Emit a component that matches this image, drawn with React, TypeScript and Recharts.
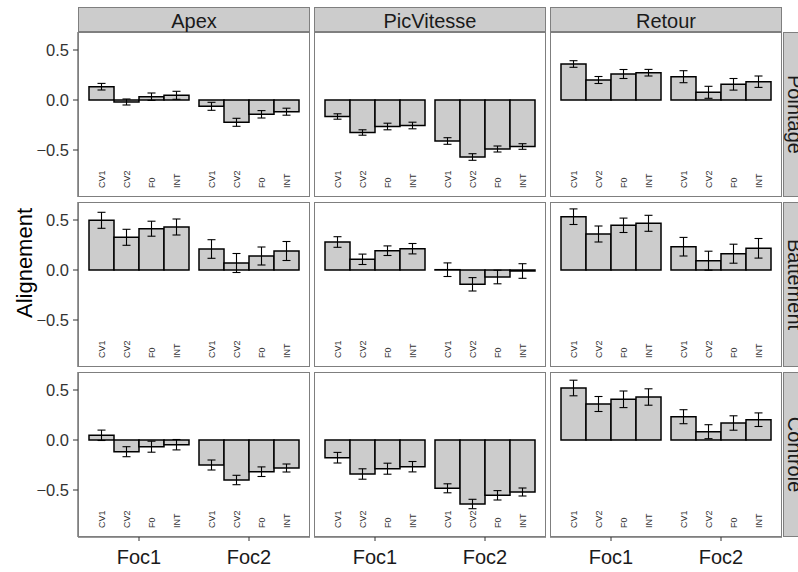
import React from 'react';
import { BarChart, Bar, XAxis, YAxis, ErrorBar, LabelList } from 'recharts';

const facets = ['Apex', 'PicVitesse', 'Retour'];
const tasks = ['Pointage', 'Battement', 'Controle'];
const focs = ['Foc1', 'Foc2'];
const measures = ['CV1', 'CV2', 'F0', 'INT'];
const yTicks = [-0.5, 0, 0.5];

// moyennes : Foc1 (CV1, CV2, F0, INT) puis Foc2 (CV1, CV2, F0, INT)
const apexPointage = [0.133, -0.02, 0.033, 0.047, -0.063, -0.223, -0.143, -0.117];
const picPointage = [-0.165, -0.325, -0.265, -0.255, -0.41, -0.57, -0.49, -0.465];
const retourPointage = [0.36, 0.2, 0.26, 0.273, 0.233, 0.077, 0.157, 0.183];
const apexBattement = [0.497, 0.327, 0.413, 0.43, 0.21, 0.07, 0.14, 0.19];
const picBattement = [0.28, 0.107, 0.193, 0.213, 0.003, -0.143, -0.07, -0.01];
const retourBattement = [0.533, 0.36, 0.447, 0.467, 0.233, 0.093, 0.163, 0.217];
const apexControle = [0.047, -0.117, -0.067, -0.047, -0.25, -0.4, -0.317, -0.28];
const picControle = [-0.177, -0.34, -0.287, -0.267, -0.483, -0.64, -0.553, -0.52];
const retourControle = [0.52, 0.36, 0.407, 0.43, 0.233, 0.083, 0.17, 0.203];

// erreurs standard, même ordre
const apexPointageSe = [0.033, 0.03, 0.037, 0.04, 0.04, 0.04, 0.037, 0.035];
const picPointageSe = [0.027, 0.027, 0.033, 0.033, 0.033, 0.033, 0.03, 0.028];
const retourPointageSe = [0.033, 0.035, 0.045, 0.033, 0.06, 0.06, 0.058, 0.057];
const apexBattementSe = [0.08, 0.08, 0.075, 0.08, 0.093, 0.095, 0.09, 0.095];
const picBattementSe = [0.053, 0.052, 0.048, 0.052, 0.068, 0.067, 0.068, 0.073];
const retourBattementSe = [0.078, 0.08, 0.072, 0.08, 0.093, 0.095, 0.095, 0.098];
const apexControleSe = [0.052, 0.05, 0.055, 0.052, 0.05, 0.047, 0.048, 0.04];
const picControleSe = [0.053, 0.052, 0.055, 0.052, 0.045, 0.047, 0.047, 0.04];
const retourControleSe = [0.078, 0.075, 0.083, 0.082, 0.07, 0.07, 0.072, 0.068];

const means = [
  [apexPointage, picPointage, retourPointage],
  [apexBattement, picBattement, retourBattement],
  [apexControle, picControle, retourControle],
];
const ses = [
  [apexPointageSe, picPointageSe, retourPointageSe],
  [apexBattementSe, picBattementSe, retourBattementSe],
  [apexControleSe, picControleSe, retourControleSe],
];

const FONT = '"Liberation Sans", Arial, Helvetica, sans-serif';
const PANEL_W = 232;
const PANEL_H = 165;
const Y_AXIS_W = 78;
const X_AXIS_H = 35;
const colX = [78, 314, 550];
const rowY = [32, 202, 372];
const STRIP_TOP = 7;
const STRIP_H = 25;
const RIGHT_STRIP_X = 783;
const BORDER = '#7f7f7f';
const GREY = '#cccccc';

const fmtTick = (v: number) => (v < 0 ? '\u2212' + Math.abs(v).toFixed(1) : v.toFixed(1));

function Panel({ row, col }: { row: number; col: number }) {
  const m = means[row][col];
  const s = ses[row][col];
  const data = focs.map((f, fi) => {
    const d: any = { foc: f };
    measures.forEach((k, ki) => {
      d[k] = m[fi * 4 + ki];
      d[k + '_se'] = s[fi * 4 + ki];
    });
    return d;
  });
  const showY = col === 0;
  const showX = row === 2;
  const w = PANEL_W + (showY ? Y_AXIS_W : 0);
  const h = PANEL_H + (showX ? X_AXIS_H : 0);

  return (
    <div style={{ position: 'absolute', left: colX[col] - (showY ? Y_AXIS_W : 0), top: rowY[row] }}>
      <BarChart
        width={w}
        height={h}
        data={data}
        margin={{ top: 0, right: 0, bottom: 0, left: 0 }}
        barCategoryGap={5}
        barGap={0}
      >
        <XAxis
          dataKey="foc"
          hide={!showX}
          height={X_AXIS_H}
          padding={{ left: 6, right: 6 }}
          axisLine={{ stroke: '#333333' }}
          tickSize={4}
          tickMargin={9}
          tickLine={{ stroke: '#333333' }}
          tick={{ fontSize: 20, fill: '#1a1a1a', fontFamily: FONT }}
        />
        <YAxis
          hide={!showY}
          width={Y_AXIS_W}
          domain={[-0.97, 0.68]}
          allowDataOverflow
          ticks={yTicks}
          tickFormatter={fmtTick}
          axisLine={{ stroke: '#333333' }}
          tickSize={5}
          tickMargin={4}
          tickLine={{ stroke: '#333333' }}
          tick={{ fontSize: 16.5, fill: '#333333', fontFamily: FONT }}
        />
        {measures.map((k) => (
          <Bar key={k} dataKey={k} fill={GREY} stroke="#000000" strokeWidth={1.5} isAnimationActive={false}>
            <ErrorBar dataKey={k + '_se'} width={4} stroke="#000000" strokeWidth={1.1} />
            <LabelList
              dataKey={k}
              content={(p: any) => {
                const vb = p.viewBox || p;
                const cx = Number(vb.x) + Number(vb.width) / 2;
                const cy = PANEL_H - 9;
                return (
                  <text
                    x={cx}
                    y={cy}
                    transform={`rotate(-90, ${cx}, ${cy})`}
                    textAnchor="start"
                    dominantBaseline="central"
                    fontSize={9}
                    fontFamily={FONT}
                    fill="#333333"
                  >
                    {k}
                  </text>
                );
              }}
            />
          </Bar>
        ))}
      </BarChart>
      <div
        style={{
          position: 'absolute',
          left: showY ? Y_AXIS_W : 0,
          top: 0,
          width: PANEL_W,
          height: PANEL_H,
          border: `1px solid ${BORDER}`,
          boxSizing: 'border-box',
          pointerEvents: 'none',
        }}
      />
    </div>
  );
}

export default function App() {
  return (
    <div
      style={{
        position: 'absolute',
        left: 0,
        top: 0,
        width: 798,
        height: 572,
        background: '#ffffff',
        overflow: 'hidden',
        fontFamily: FONT,
      }}
    >
      <svg width={798} height={572} style={{ position: 'absolute', left: 0, top: 0 }}>
        {facets.map((f, i) => (
          <g key={f}>
            <rect x={colX[i] + 0.5} y={STRIP_TOP + 0.5} width={PANEL_W - 1} height={STRIP_H - 1} fill={GREY} stroke={BORDER} />
            <text
              x={colX[i] + PANEL_W / 2}
              y={STRIP_TOP + STRIP_H / 2 + 1}
              textAnchor="middle"
              dominantBaseline="central"
              fontSize={20}
              fontFamily={FONT}
              fill="#1a1a1a"
            >
              {f}
            </text>
          </g>
        ))}
        {tasks.map((t, i) => {
          const cx = RIGHT_STRIP_X + 12;
          const cy = rowY[i] + PANEL_H / 2;
          return (
            <g key={t}>
              <rect x={RIGHT_STRIP_X + 0.5} y={rowY[i] + 0.5} width={30} height={PANEL_H - 1} fill={GREY} stroke={BORDER} />
              <text
                x={cx}
                y={cy}
                transform={`rotate(90, ${cx}, ${cy})`}
                textAnchor="middle"
                dominantBaseline="central"
                fontSize={20}
                fontFamily={FONT}
                fill="#1a1a1a"
              >
                {t}
              </text>
            </g>
          );
        })}
        <text
          x={24}
          y={263}
          transform="rotate(-90, 24, 263)"
          textAnchor="middle"
          dominantBaseline="central"
          fontSize={22}
          fontFamily={FONT}
          fill="#000000"
        >
          Alignement
        </text>
      </svg>
      {tasks.map((_, r) => facets.map((__, c) => <Panel key={`${r}-${c}`} row={r} col={c} />))}
    </div>
  );
}
